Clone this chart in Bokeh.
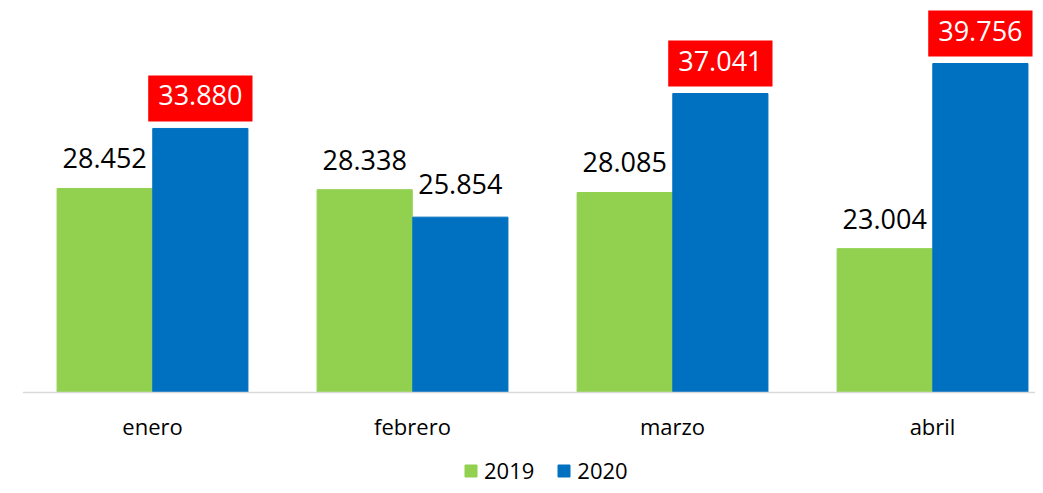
from bokeh.plotting import figure
from bokeh.models import Range1d, FixedTicker, Legend, LegendItem, ColumnDataSource
from bokeh.transform import dodge
from bokeh.core.properties import value
from bokeh.embed import file_html
from bokeh.resources import INLINE

# ---- data ----
months = ["enero", "febrero", "marzo", "abril"]
years = ["2019", "2020"]
values_2019 = [28.452, 28.338, 28.085, 23.004]
values_2020 = [33.880, 25.854, 37.041, 39.756]

# ---- style ----
colors = ["#92D050", "#0070C0"]
y_base = 10          # value axis starts here
y_lo, y_hi = 1.57, 45.46
FONT = "Open Sans"


def fmt(v):
    return f"{v:.3f}"


xs = list(range(len(months)))
src = ColumnDataSource(dict(
    x=xs,
    v19=values_2019,
    v20=values_2020,
    l19=[fmt(v) for v in values_2019],
    l20=[fmt(v) for v in values_2020],
    c20=["white" if b > a else "black" for a, b in zip(values_2019, values_2020)],
    bg20=["#FF0000" if b > a else None for a, b in zip(values_2019, values_2020)],
))

p = figure(width=1035, height=485,
           x_range=Range1d(-0.5, 3.396), y_range=Range1d(y_lo, y_hi),
           output_backend="svg", toolbar_location=None,
           min_border_left=22, min_border_right=0, min_border_top=0,
           min_border_bottom=0)
p.outline_line_color = None
p.grid.visible = False
p.yaxis.visible = False
p.background_fill_color = "white"
p.border_fill_color = "white"

bw = 0.366
off = 0.184
r1 = p.vbar(x=dodge("x", -off, range=p.x_range), top="v19", bottom=y_base, width=bw,
            color=colors[0], source=src)
r2 = p.vbar(x=dodge("x", off, range=p.x_range), top="v20", bottom=y_base, width=bw,
            color=colors[1], source=src)

p.text(x=dodge("x", -off, range=p.x_range), y="v19", text="l19", source=src,
       text_align="center", text_baseline="alphabetic", y_offset=-30,
       text_font=value(FONT), text_font_size="27px", text_color="black")
p.text(x=dodge("x", off, range=p.x_range), y="v20", text="l20", source=src,
       text_align="center", text_baseline="alphabetic", y_offset=-30,
       text_font=value(FONT), text_font_size="27px", text_color="c20",
       background_fill_color="bg20",
       padding=dict(left=10, right=10, top=10, bottom=16))

ax = p.xaxis[0]
ax.fixed_location = y_base
ax.ticker = FixedTicker(ticks=xs)
ax.major_label_overrides = {i: m for i, m in zip(xs, months)}
ax.axis_line_color = "#D9D9D9"
ax.axis_line_width = 1.5
ax.major_tick_line_color = None
ax.minor_tick_line_color = None
ax.major_tick_out = 0
ax.major_tick_in = 0
ax.minor_tick_out = 0
ax.minor_tick_in = 0
ax.major_label_text_font = FONT
ax.major_label_text_font_size = "22px"
ax.major_label_text_color = "black"
ax.major_label_standoff = 19

legend = Legend(items=[LegendItem(label=years[0], renderers=[r1]),
                       LegendItem(label=years[1], renderers=[r2])],
                orientation="horizontal", location=(441, 0),
                glyph_width=15, glyph_height=15, spacing=22,
                label_text_font=FONT, label_text_font_size="22px",
                label_text_color="black",
                label_standoff=6, border_line_color=None,
                background_fill_alpha=0, padding=0, margin=0)
p.add_layout(legend)

open("out.html", "w").write(file_html(p, INLINE))
